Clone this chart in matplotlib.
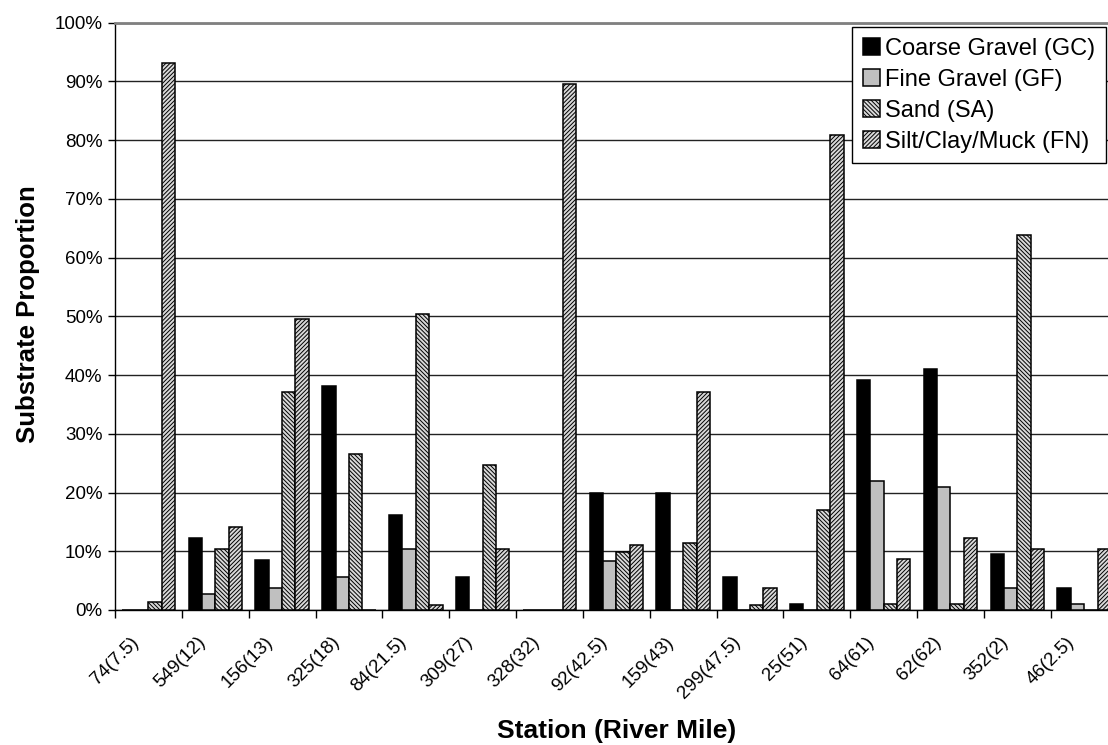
import matplotlib
matplotlib.use('Agg')
import matplotlib.pyplot as plt
from matplotlib.ticker import PercentFormatter, FixedLocator
import numpy as np

plt.rcParams['font.family'] = ['Liberation Sans', 'DejaVu Sans']
plt.rcParams['hatch.linewidth'] = 0.7

stations = ['74(7.5)', '549(12)', '156(13)', '325(18)', '84(21.5)', '309(27)',
            '328(32)', '92(42.5)', '159(43)', '299(47.5)', '25(51)', '64(61)',
            '62(62)', '352(2)', '46(2.5)']

coarse_gravel = [0, 12.3, 8.5, 38.1, 16.1, 5.7, 0, 20.0, 20.0, 5.7, 1.0, 39.1, 41.0, 9.5, 3.8]
fine_gravel = [0, 2.7, 3.7, 5.6, 10.4, 0, 0, 8.3, 0, 0, 0, 21.9, 20.9, 3.8, 1.0]
sand = [1.4, 10.4, 37.1, 26.6, 50.4, 24.7, 0, 9.9, 11.4, 0.9, 17.1, 1.0, 1.0, 63.8, 0]
silt_clay_muck = [93.1, 14.2, 49.5, 0, 0.8, 10.4, 89.5, 11.0, 37.1, 3.7, 80.9, 8.6, 12.3, 10.4, 10.4]

series = [
    ('Coarse Gravel (GC)', coarse_gravel, 'black', None),
    ('Fine Gravel (GF)', fine_gravel, '#c0c0c0', None),
    ('Sand (SA)', sand, '#d8d8d8', '\\' * 8),
    ('Silt/Clay/Muck (FN)', silt_clay_muck, '#d8d8d8', '/' * 8),
]

W, H = 1108, 745
fig = plt.figure(figsize=(W / 100, H / 100), dpi=100)
# plot area runs past the right edge of the picture, as in the reference
ax = fig.add_axes([115 / W, (H - 610) / H, (1117.6 - 115) / W, 587.3 / H])

x = np.arange(len(stations))
bw = 0.2
for i, (name, vals, fc, hatch) in enumerate(series):
    ax.bar(x + (i - 1.5) * bw, vals, width=bw, color=fc, edgecolor='black',
           linewidth=1.1, hatch=hatch, label=name, zorder=3)

ax.set_xlim(-0.5, len(stations) - 0.5)
ax.set_ylim(0, 100)
ax.yaxis.set_major_locator(FixedLocator(np.arange(0, 101, 10)))
ax.yaxis.set_major_formatter(PercentFormatter(decimals=0))
ax.grid(axis='y', color='#222222', linewidth=1.0, zorder=0)

# ticks sit on the category boundaries, labels at the centres
ax.set_xticks(np.arange(-0.5, len(stations), 1))
ax.set_xticklabels([])
ax.tick_params(axis='x', length=6, width=1, color='black')
ax.tick_params(axis='y', length=5, width=1, labelsize=13.5, pad=4)
for xi, name in zip(x, stations):
    ax.annotate(name, xy=(xi, 0), xycoords=('data', 'axes fraction'),
                xytext=(-13, -16.8), textcoords='offset points', rotation=45,
                ha='right', va='top', rotation_mode='anchor', fontsize=13.5)

ax.spines['right'].set_visible(False)
ax.spines['top'].set_color('#808080')
ax.spines['top'].set_linewidth(2.0)
ax.spines['left'].set_linewidth(1.0)
ax.spines['bottom'].set_linewidth(1.0)

fig.text(28 / W, 1 - 314 / H, 'Substrate Proportion', fontsize=18.5,
         fontweight='bold', ha='center', va='center', rotation=90)
fig.text(617 / W, 1 - 731 / H, 'Station (River Mile)', fontsize=19,
         fontweight='bold', ha='center', va='center')

leg = ax.legend(loc='upper left', bbox_to_anchor=(852 / W, 1 - 27 / H),
                bbox_transform=fig.transFigure, fontsize=17, frameon=True,
                fancybox=False, handlelength=0.75, handleheight=0.75,
                handletextpad=0.2, borderpad=0.45, labelspacing=0.38,
                borderaxespad=0, framealpha=1)
leg.get_frame().set_edgecolor('black')
leg.get_frame().set_linewidth(1.0)

fig.savefig('out.png', dpi=100)
